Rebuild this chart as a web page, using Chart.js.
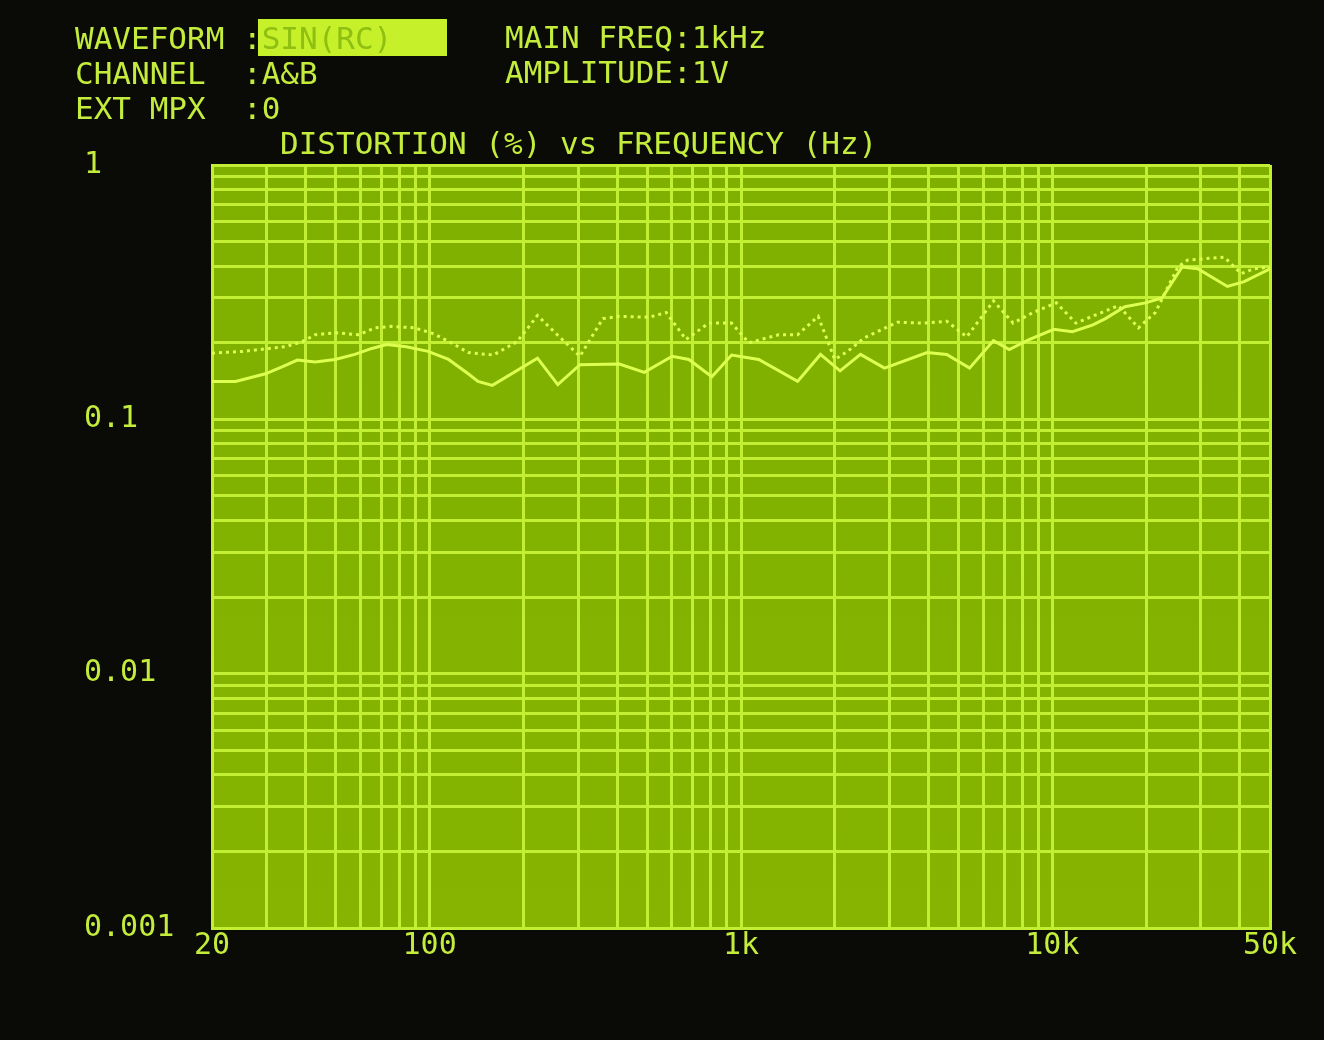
<!DOCTYPE html>
<html lang="en">
<head>
  <meta charset="UTF-8">
  <title>Distortion vs Frequency</title>
  <script src="https://cdn.jsdelivr.net/npm/chart.js"></script>
  <style>
    html, body {
      margin: 0;
      padding: 0;
      width: 1324px;
      height: 1040px;
      overflow: hidden;
    }
    body {
      background: #0a0a06;
      position: relative;
      font-family: "DejaVu Sans Mono", monospace;
      color: #c4ec3c;
    }
    .txt {
      position: absolute;
      font-size: 31px;
      line-height: 31px;
      white-space: pre;
      z-index: 2;
    }
    #waveBox {
      position: absolute;
      left: 258px;
      top: 19px;
      width: 189px;
      height: 37px;
      background: #c6f02a;
      z-index: 1;
    }
    #chart {
      position: absolute;
      left: 0;
      top: 0;
    }
  </style>
</head>
<body>
  <div id="waveBox"></div>
  <div class="txt" style="left:75px; top:23px;">WAVEFORM :<span style="color:#8fbf10;">SIN(RC)</span></div>
  <div class="txt" style="left:75px; top:58px;">CHANNEL  :A&amp;B</div>
  <div class="txt" style="left:75px; top:93px;">EXT MPX  :0</div>
  <div class="txt" style="left:505px; top:22px;">MAIN FREQ:1kHz</div>
  <div class="txt" style="left:505px; top:57px;">AMPLITUDE:1V</div>
  <div class="txt" style="left:280px; top:128px;">DISTORTION (%) vs FREQUENCY (Hz)</div>

  <canvas id="chart" width="1324" height="1040"></canvas>

  <script>
    // channel A (solid trace)
    const freqA = [20, 23.8, 29.7, 33.7, 37.6, 42.9, 49.7, 57.5, 65.2, 72.7,
      84.2, 98.9, 115, 133, 143, 159, 222, 258, 304, 407,
      489, 601, 680, 806, 933, 1140, 1520, 1800, 2080, 2420,
      2890, 3960, 4580, 5420, 6470, 7270, 8420, 10100, 11600, 13500,
      14800, 17100, 19900, 22500, 26100, 29300, 36500, 41300, 50000];
    const distA = [0.141, 0.141, 0.151, 0.161, 0.171, 0.168, 0.172, 0.180, 0.190, 0.197,
      0.193, 0.185, 0.172, 0.151, 0.141, 0.136, 0.174, 0.137, 0.164, 0.165,
      0.153, 0.177, 0.172, 0.147, 0.179, 0.172, 0.141, 0.180, 0.155, 0.180,
      0.159, 0.183, 0.180, 0.159, 0.204, 0.188, 0.206, 0.226, 0.221, 0.235,
      0.249, 0.277, 0.287, 0.300, 0.397, 0.391, 0.333, 0.348, 0.391];

    // channel B (dotted trace)
    const freqB = [20, 25.1, 34.4, 39.0, 42.9, 49.7, 59.2, 66.6, 75.4, 89.3,
      103, 120, 133, 160, 191, 222, 257, 304, 360, 407,
      507, 575, 666, 788, 933, 1060, 1320, 1520, 1770, 2000,
      2200, 2490, 3180, 3870, 4580, 5310, 6470, 7480, 8670, 10300,
      11900, 16300, 18900, 21400, 25300, 27200, 35700, 40400, 44500, 50000];
    const distB = [0.182, 0.185, 0.193, 0.202, 0.215, 0.219, 0.215, 0.229, 0.232, 0.229,
      0.217, 0.197, 0.183, 0.179, 0.202, 0.256, 0.215, 0.177, 0.249, 0.254,
      0.252, 0.263, 0.206, 0.239, 0.239, 0.200, 0.215, 0.215, 0.254, 0.172,
      0.185, 0.209, 0.241, 0.239, 0.243, 0.211, 0.292, 0.239, 0.263, 0.287,
      0.239, 0.280, 0.229, 0.263, 0.397, 0.423, 0.434, 0.374, 0.391, 0.397];

    const xMin = 20, xMax = 50000;
    const yMin = 0.001, yMax = 1;
    const xTickValues = [20, 100, 1000, 10000, 50000];
    const xTickLabels = ['20', '100', '1k', '10k', '50k'];
    const yTickValues = [0.001, 0.01, 0.1, 1];
    const yTickLabels = ['0.001', '0.01', '0.1', '1'];

    const gridColor = '#c2ee34';
    const traceColor = '#dcff50';
    const textColor = '#c4ec3c';

    // 1..9 x 10^n grid, like the analyzer screen
    function logGrid(min, max) {
      const out = [];
      for (let e = Math.floor(Math.log10(min)); e <= Math.ceil(Math.log10(max)); e++) {
        for (let m = 1; m <= 9; m++) {
          const v = parseFloat((m * Math.pow(10, e)).toPrecision(6));
          if (v >= min * 0.9999 && v <= max * 1.0001) out.push(v);
        }
      }
      return out;
    }

    function findLabel(value, vals, labels) {
      for (let i = 0; i < vals.length; i++) {
        if (Math.abs(Math.log10(value) - Math.log10(vals[i])) < 1e-6) return labels[i];
      }
      return '';
    }

    const plotFill = {
      id: 'plotFill',
      beforeDraw(chart) {
        const a = chart.chartArea;
        const c = chart.ctx;
        const g = c.createLinearGradient(0, a.top, 0, a.bottom);
        g.addColorStop(0, '#7fb000');
        g.addColorStop(1, '#86b400');
        c.save();
        c.fillStyle = g;
        c.fillRect(a.left, a.top, a.right - a.left, a.bottom - a.top);
        c.restore();
      }
    };

    const ctx = document.getElementById('chart').getContext('2d');
    new Chart(ctx, {
      type: 'line',
      data: {
        datasets: [{
          label: 'A',
          data: freqA.map((f, i) => ({ x: f, y: distA[i] })),
          borderColor: traceColor,
          borderWidth: 3,
          pointRadius: 0,
          tension: 0
        }, {
          label: 'B',
          data: freqB.map((f, i) => ({ x: f, y: distB[i] })),
          borderColor: traceColor,
          borderWidth: 3,
          borderDash: [3, 4],
          pointRadius: 0,
          tension: 0
        }]
      },
      options: {
        responsive: false,
        animation: false,
        layout: {
          padding: { left: 84, right: 54, top: 165, bottom: 56 }
        },
        plugins: {
          legend: { display: false },
          title: { display: false },
          tooltip: { enabled: false }
        },
        scales: {
          x: {
            type: 'logarithmic',
            min: xMin,
            max: xMax,
            afterBuildTicks(scale) {
              scale.ticks = logGrid(xMin, xMax).map(v => ({ value: v }));
            },
            afterFit(scale) { scale.height = 56; },
            grid: { color: gridColor, lineWidth: 3, drawTicks: false },
            border: { display: true, color: gridColor, width: 3 },
            ticks: {
              autoSkip: false,
              maxRotation: 0,
              padding: 0,
              color: textColor,
              font: { family: 'DejaVu Sans Mono', size: 30 },
              callback: (v) => findLabel(v, xTickValues, xTickLabels)
            }
          },
          y: {
            type: 'logarithmic',
            min: yMin,
            max: yMax,
            afterBuildTicks(scale) {
              scale.ticks = logGrid(yMin, yMax).map(v => ({ value: v }));
            },
            afterFit(scale) { scale.width = 128; },
            grid: { color: gridColor, lineWidth: 3, drawTicks: false },
            border: { display: true, color: gridColor, width: 3 },
            ticks: {
              autoSkip: false,
              crossAlign: 'far',
              padding: 0,
              color: textColor,
              font: { family: 'DejaVu Sans Mono', size: 30 },
              callback: (v) => findLabel(v, yTickValues, yTickLabels)
            }
          }
        }
      },
      plugins: [plotFill]
    });
  </script>
</body>
</html>
